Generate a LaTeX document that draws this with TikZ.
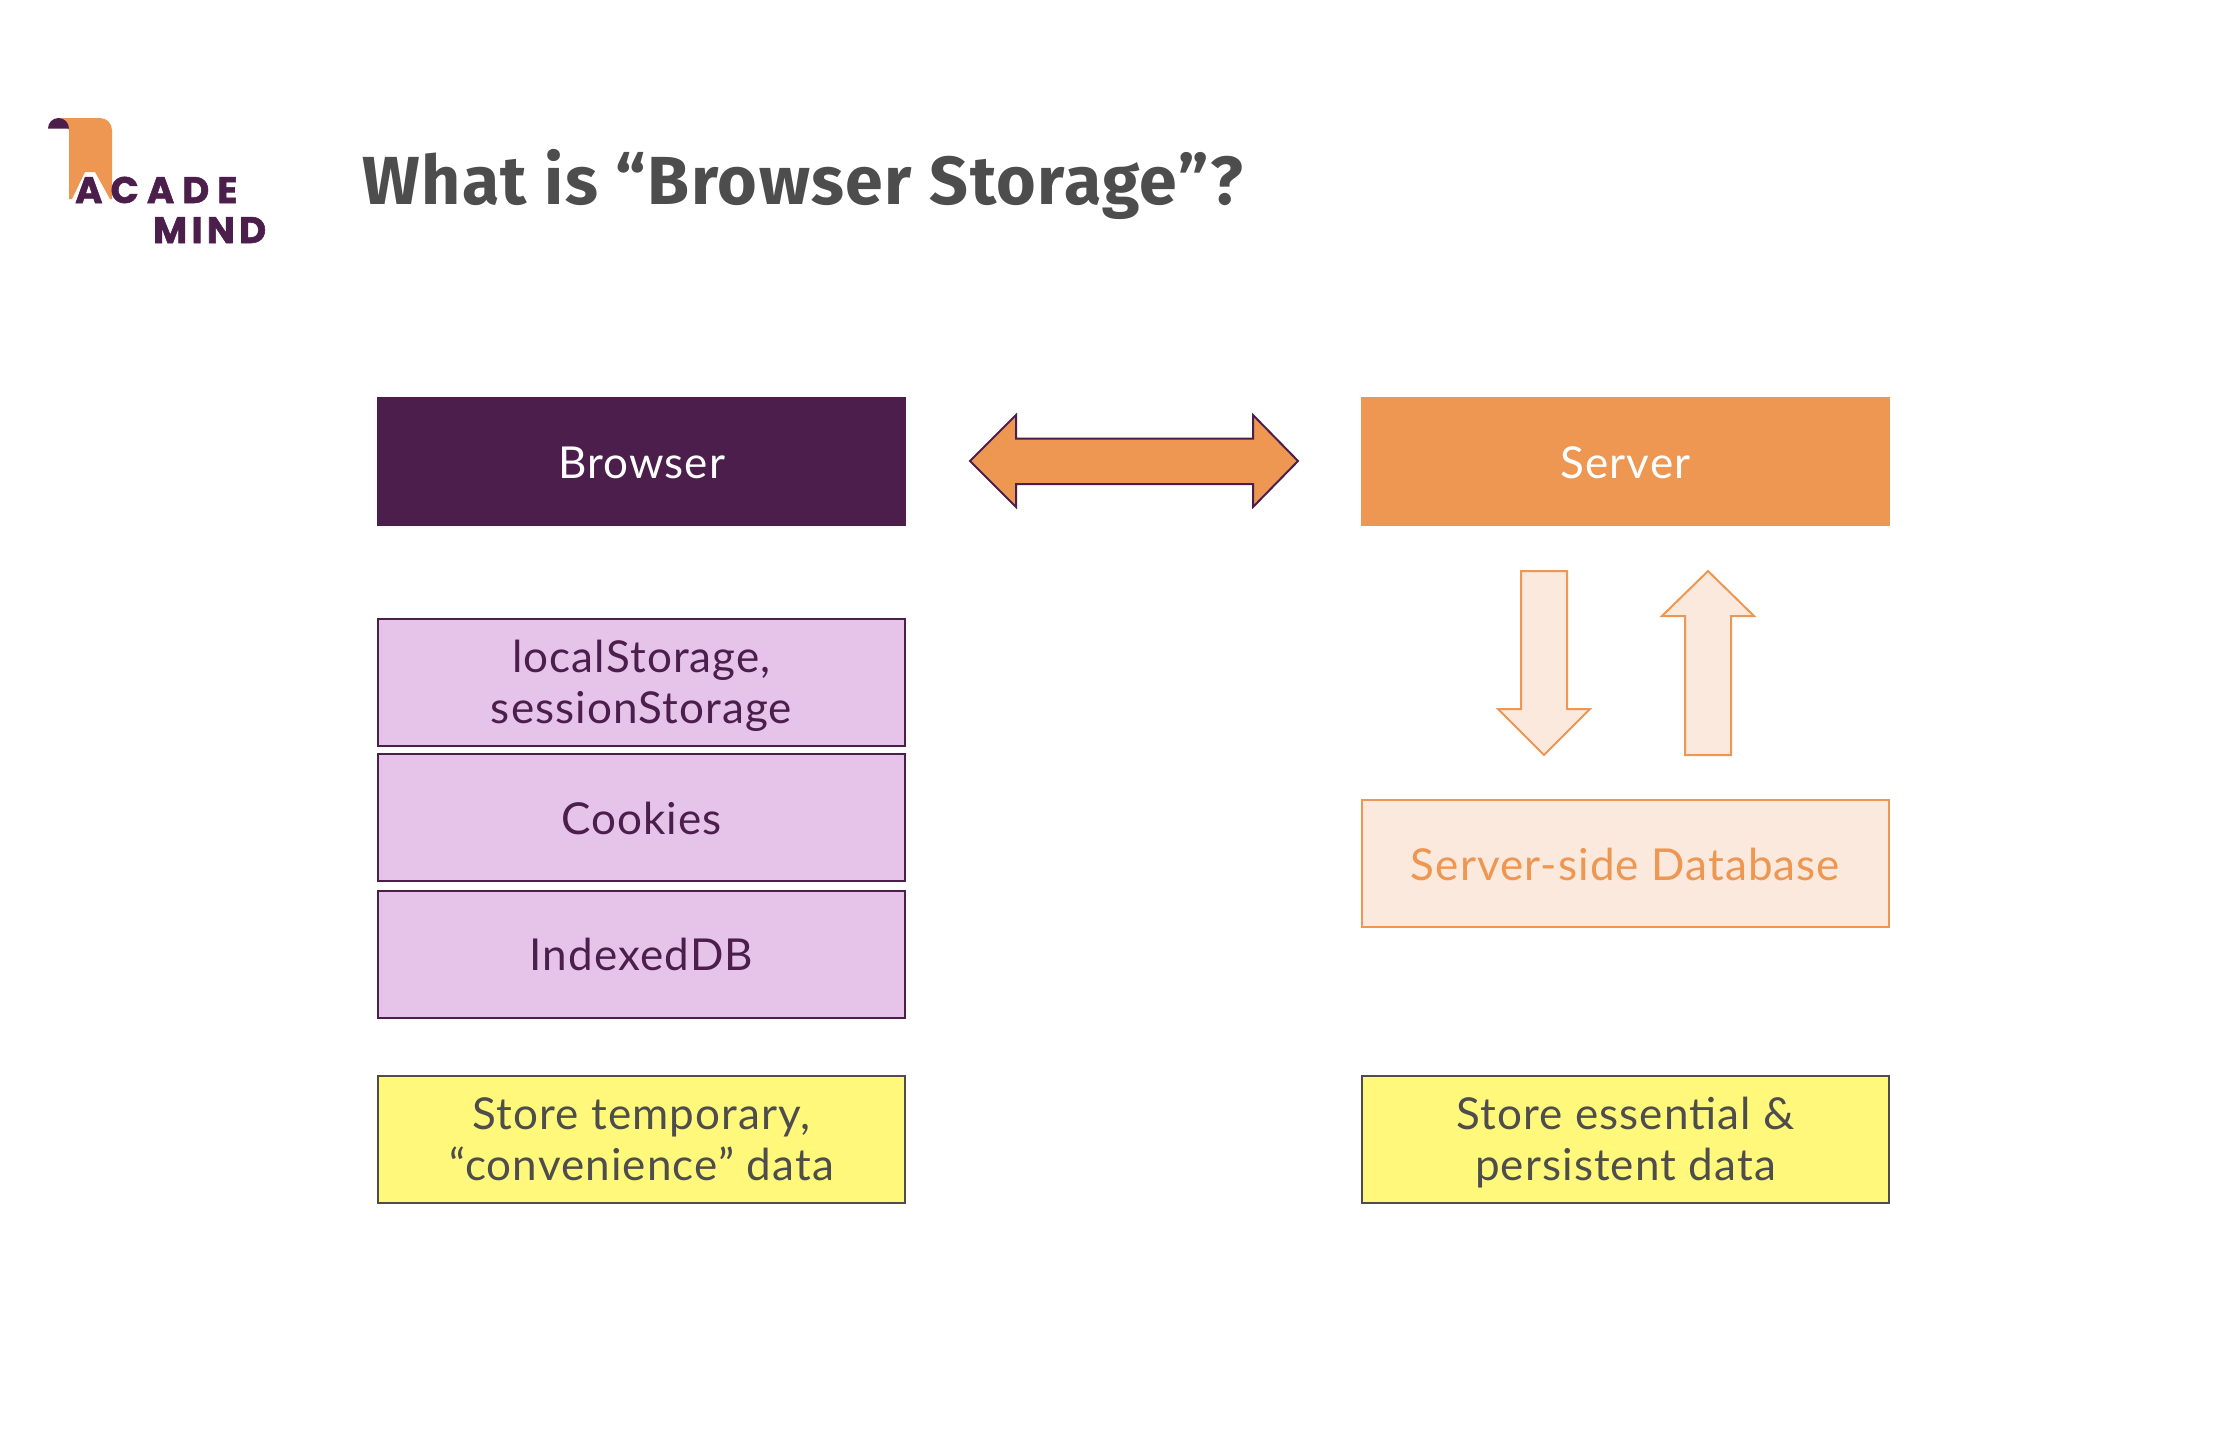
\documentclass[tikz,border=0pt]{standalone}
\usepackage{fontspec}
\setmainfont{Lato}[LetterSpace=2.5]
\newfontfamily\titlefont{Fira Sans}[LetterSpace=2.2]
\newfontfamily\logofonta{Poppins}[LetterSpace=22,BoldFeatures={FakeBold=1.5}]
\newfontfamily\logofontb{Poppins}[LetterSpace=12,BoldFeatures={FakeBold=1.5}]
\definecolor{purp}{HTML}{4B1E4C}
\definecolor{orng}{HTML}{EE9752}
\definecolor{lilac}{HTML}{E6C3E8}
\definecolor{peach}{HTML}{FAE9DC}
\definecolor{yell}{HTML}{FFF87A}
\definecolor{greytext}{HTML}{4D4D4D}
\newcommand{\onest}{\rule[-11pt]{0pt}{55pt}}
\newcommand{\twost}{\rule[-10.5pt]{0pt}{51pt}}
\tikzset{
  x=1pt,y=-1pt,
  boxbase/.style={minimum width=527pt,minimum height=127pt,inner sep=0pt,outer sep=0pt,align=center,font=\fontsize{44}{51}\selectfont,line width=2pt,anchor=north west},
  headbrowser/.style={boxbase,minimum width=529pt,minimum height=129pt,fill=purp,text=white},
  headserver/.style={boxbase,minimum width=529pt,minimum height=129pt,fill=orng,text=white},
  storebox/.style={boxbase,draw=purp,fill=lilac,text=purp},
  dbbox/.style={boxbase,draw=orng,fill=peach,text=orng},
  notebox/.style={boxbase,draw=greytext,fill=yell,text=greytext},
  blockdark/.style={draw=purp,fill=orng,line width=2pt,line join=miter},
  blocklight/.style={draw=orng,fill=peach,line width=2pt,line join=miter},
  logotext/.style={text=purp,inner sep=0pt,anchor=base west}
}
\begin{document}
\begin{tikzpicture}
\useasboundingbox (0,0) rectangle (2228,1430);
\fill[white] (0,0) rectangle (2228,1430);
% logo
\fill[orng] (58,118) -- (100,118) arc[start angle=-90,end angle=0,radius=12] -- (112,199) -- (110,199) -- (95,172) -- (85,172) -- (72,199) -- (69,199) -- (69,130) -- cycle;
\fill[purp] (48,128.5) arc[start angle=180,end angle=360,radius=10.5] -- cycle;
\node[logotext,font=\logofonta\bfseries\fontsize{37}{37}\selectfont] (logotop) at (75,203) {ACADE};
\node[logotext,font=\logofontb\bfseries\fontsize{37}{37}\selectfont] (logobottom) at (153,243) {MIND};
% title
\node[anchor=base west,inner sep=0pt,text=greytext,font=\titlefont\bfseries\fontsize{68}{72}\selectfont] (title) at (362,204) {What is “Browser Storage”?};
% boxes
\node[headbrowser] (browser) at (377,397) {\onest Browser};
\node[headserver] (server) at (1361,397) {\onest Server};
\node[storebox] (local) at (378,619) {\twost localStorage,\\\twost sessionStorage};
\node[storebox] (cookies) at (378,754) {\onest Cookies};
\node[storebox] (indexed) at (378,890.5) {\onest IndexedDB};
\node[dbbox] (db) at (1362,800) {\onest Server-side Database};
\node[notebox] (tempnote) at (378,1076) {\twost Store temporary,\\\twost “convenience” data};
\node[notebox] (essnote) at (1362,1076) {\twost Store essential \&\\\twost persistent data};
% block arrows
\draw[blockdark] (970,461) -- (1016,415) -- (1016,438.5) -- (1253,438.5) -- (1253,415) -- (1298,461) -- (1253,507) -- (1253,484) -- (1016,484) -- (1016,507) -- cycle;
\draw[blocklight] (1521,571) -- (1567,571) -- (1567,709) -- (1590,709) -- (1544,755) -- (1498,709) -- (1521,709) -- cycle;
\draw[blocklight] (1708,571) -- (1754,616) -- (1731,616) -- (1731,755) -- (1685,755) -- (1685,616) -- (1662,616) -- cycle;
\end{tikzpicture}
\end{document}
